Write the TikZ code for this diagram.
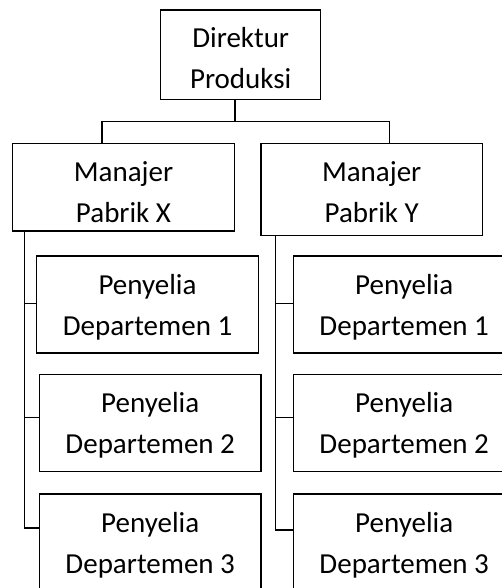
\documentclass[tikz,border=0pt]{standalone}
\usepackage{fontspec}
\setmainfont{Carlito}
\usetikzlibrary{positioning, calc}
\tikzset{
  unit/.style={draw, line width=1.3pt, minimum width=221.7pt, minimum height=97pt, inner sep=0pt},
  caption/.style={anchor=base, align=center, inner sep=0pt, font=\fontsize{29}{41}\selectfont},
  link/.style={line width=1.1pt}
}
\begin{document}
\begin{tikzpicture}[x=1pt, y=1pt]
  \clip (0,0) rectangle (502,-588);
  \useasboundingbox (0,0) rectangle (502,-588);
  % direktur
  \node[unit, minimum width=160pt, minimum height=89.3pt] (dir) at (240.7,-54.65) {};
  \node[caption] at ([yshift=-79pt]dir.north) {Direktur\\Produksi};
  % manajer pabrik
  \node[unit, minimum height=87.7pt] (mx) at (123.5,-187.15) {};
  \node[caption] at ([yshift=-80pt]mx.north) {Manajer\\Pabrik X};
  \node[unit, minimum height=92pt] (my) at (371.7,-189.3) {};
  \node[caption] at ([yshift=-80pt]my.north) {Manajer\\Pabrik Y};
  % penyelia
  \foreach \n/\cx/\cy in {1/147.5/-304.4, 2/150.2/-422.9, 3/150.2/-542.5}{
    \node[unit] (xd\n) at (\cx,\cy) {};
    \node[caption] at ([yshift=-80pt]xd\n.north) {Penyelia\\Departemen \n};
  }
  \foreach \n/\cy in {1/-304.4, 2/-422.9, 3/-542.5}{
    \node[unit] (yd\n) at (404.2,\cy) {};
    \node[caption] at ([yshift=-80pt]yd\n.north) {Penyelia\\Departemen \n};
  }
  % garis
  \coordinate (jn) at ([yshift=-21.7pt]dir.south -| mx.east);
  \draw[link] (dir.south -| mx.east) -- (jn);
  \draw[link] ([xshift=90pt]mx.north west) |- (jn) -| ([xshift=129.7pt]my.north west);
  \coordinate (xs) at ([xshift=12.3pt]mx.south west);
  \coordinate (ys) at ([xshift=15.7pt]my.south west);
  \draw[link] (xs) |- ([yshift=14.5pt]xd3.west);
  \draw[link] (ys) |- ([yshift=12.5pt]yd3.west);
  \foreach \n/\dy in {1/1.1, 2/5.6}{
    \draw[link] ([yshift=\dy pt]xd\n.west) -- ([yshift=\dy pt]xd\n.west -| xs);
    \draw[link] ([yshift=\dy pt]yd\n.west) -- ([yshift=\dy pt]yd\n.west -| ys);
  }
\end{tikzpicture}
\end{document}
